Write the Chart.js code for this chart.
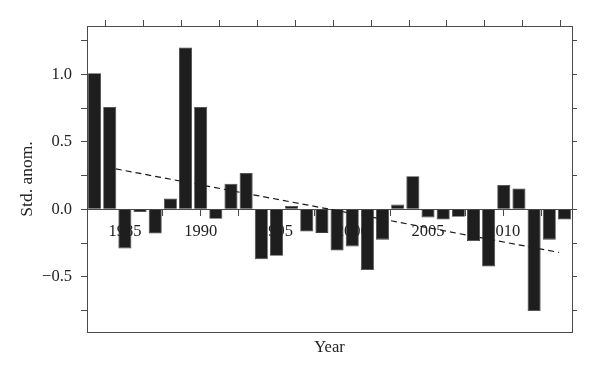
<!DOCTYPE html>
<html><head><meta charset="utf-8">
<script src="https://cdn.jsdelivr.net/npm/chart.js@4/dist/chart.umd.min.js"></script>
<style>html,body{margin:0;padding:0;background:#fff}canvas{display:block}</style>
</head><body>
<canvas id="c" width="600" height="375"></canvas>
<script>
const years = [1983,1984,1985,1986,1987,1988,1989,1990,1991,1992,1993,1994,1995,1996,1997,1998,1999,2000,2001,2002,2003,2004,2005,2006,2007,2008,2009,2010,2011,2012,2013,2014];
const anomalies = [1.01,0.76,-0.29,-0.02,-0.18,0.08,1.20,0.76,-0.07,0.19,0.27,-0.37,-0.345,0.025,-0.165,-0.175,-0.305,-0.275,-0.45,-0.225,0.035,0.245,-0.06,-0.075,-0.055,-0.235,-0.425,0.18,0.155,-0.755,-0.225,-0.075];
const trendYears = [1984.4, 2013.65];
const trendValues = [0.30, -0.32];
const xTickValues = [1985,1987.5,1990,1992.5,1995,1997.5,2000,2002.5,2005,2007.5,2010,2012.5];
const xLabelYears = [1985,1990,1995,2000,2005,2010];
const yTickValues = [-0.75,-0.5,-0.25,0,0.25,0.5,0.75,1,1.25];
const yLabelValues = [-0.5,0,0.5,1];
const xTitle = 'Year';
const yTitle = 'Std. anom.';

const XMIN = 1982.5, XMAX = 2014.5, YMIN = -0.91, YMAX = 1.36;
const FONT = {family: "'Liberation Serif', 'Times New Roman', serif", size: 16.5};
const TFONT = {family: "'Liberation Serif', 'Times New Roman', serif", size: 17.5};
const AXIS = '#4a4a4a';
const TXT = '#222';
const setTicks = vals => s => { s.ticks = vals.map(v => ({value: v})); };
const fmtY = v => (v < 0 ? '\u2212' : '') + Math.abs(v).toFixed(1);

new Chart(document.getElementById('c'), {
  type: 'bar',
  data: {
    datasets: [
      {
        type: 'bar',
        xAxisID: 'x', yAxisID: 'y',
        data: years.map((yr, i) => ({x: yr, y: anomalies[i]})),
        backgroundColor: '#1e1e1e',
        borderColor: '#3c3c3c',
        borderWidth: 0.8,
        barPercentage: 0.86,
        categoryPercentage: 1,
        order: 1
      },
      {
        type: 'line',
        xAxisID: 'x', yAxisID: 'y',
        data: trendYears.map((x, i) => ({x: x, y: trendValues[i]})),
        borderColor: '#1a1a1a',
        borderWidth: 1.2,
        borderDash: [6, 4],
        pointRadius: 0,
        fill: false,
        order: 2
      }
    ]
  },
  options: {
    responsive: false,
    animation: false,
    devicePixelRatio: 1,
    layout: {padding: 0},
    plugins: {legend: {display: false}, tooltip: {enabled: false}},
    scales: {
      x: {
        type: 'linear', position: {y: 0}, min: XMIN, max: XMAX, offset: false,
        afterBuildTicks: setTicks(xTickValues),
        grid: {display: true, drawOnChartArea: false, drawTicks: true, tickLength: 6, color: AXIS, offset: false},
        border: {display: true, color: AXIS, width: 1},
        ticks: {font: FONT, color: TXT, padding: 6, maxRotation: 0, autoSkip: false,
          callback: v => xLabelYears.includes(v) ? String(v) : ''}
      },
      x2: {
        type: 'linear', position: 'bottom', min: XMIN, max: XMAX, offset: false,
        afterBuildTicks: setTicks(xTickValues),
        afterFit: s => { s.height = 43; },
        grid: {display: true, drawOnChartArea: false, drawTicks: false, color: AXIS},
        border: {display: true, color: AXIS, width: 1},
        ticks: {display: false},
        title: {display: true, text: xTitle, font: FONT, color: TXT, padding: {top: 0, bottom: 17}}
      },
      x3: {
        type: 'linear', position: 'top', min: XMIN, max: XMAX, offset: false,
        afterBuildTicks: setTicks(xTickValues),
        afterFit: s => { s.height = 26; },
        grid: {display: true, drawOnChartArea: false, drawTicks: true, tickLength: 6, color: AXIS},
        border: {display: true, color: AXIS, width: 1},
        ticks: {display: false}
      },
      y: {
        type: 'linear', position: 'left', min: YMIN, max: YMAX,
        afterBuildTicks: setTicks(yTickValues),
        afterFit: s => { s.width = 87; },
        grid: {display: true, drawOnChartArea: false, drawTicks: true, tickLength: 6, color: AXIS},
        border: {display: true, color: AXIS, width: 1},
        ticks: {font: FONT, color: TXT, padding: 9, autoSkip: false,
          callback: v => yLabelValues.includes(v) ? fmtY(v) : ''},
        title: {display: true, text: yTitle, font: TFONT, color: TXT, padding: {top: 17, bottom: 0}}
      },
      y2: {
        type: 'linear', position: 'right', min: YMIN, max: YMAX,
        afterBuildTicks: setTicks(yTickValues),
        afterFit: s => { s.width = 28; },
        grid: {display: true, drawOnChartArea: false, drawTicks: true, tickLength: 5, color: AXIS},
        border: {display: true, color: AXIS, width: 1},
        ticks: {display: false}
      }
    }
  }
});
</script>
</body></html>
